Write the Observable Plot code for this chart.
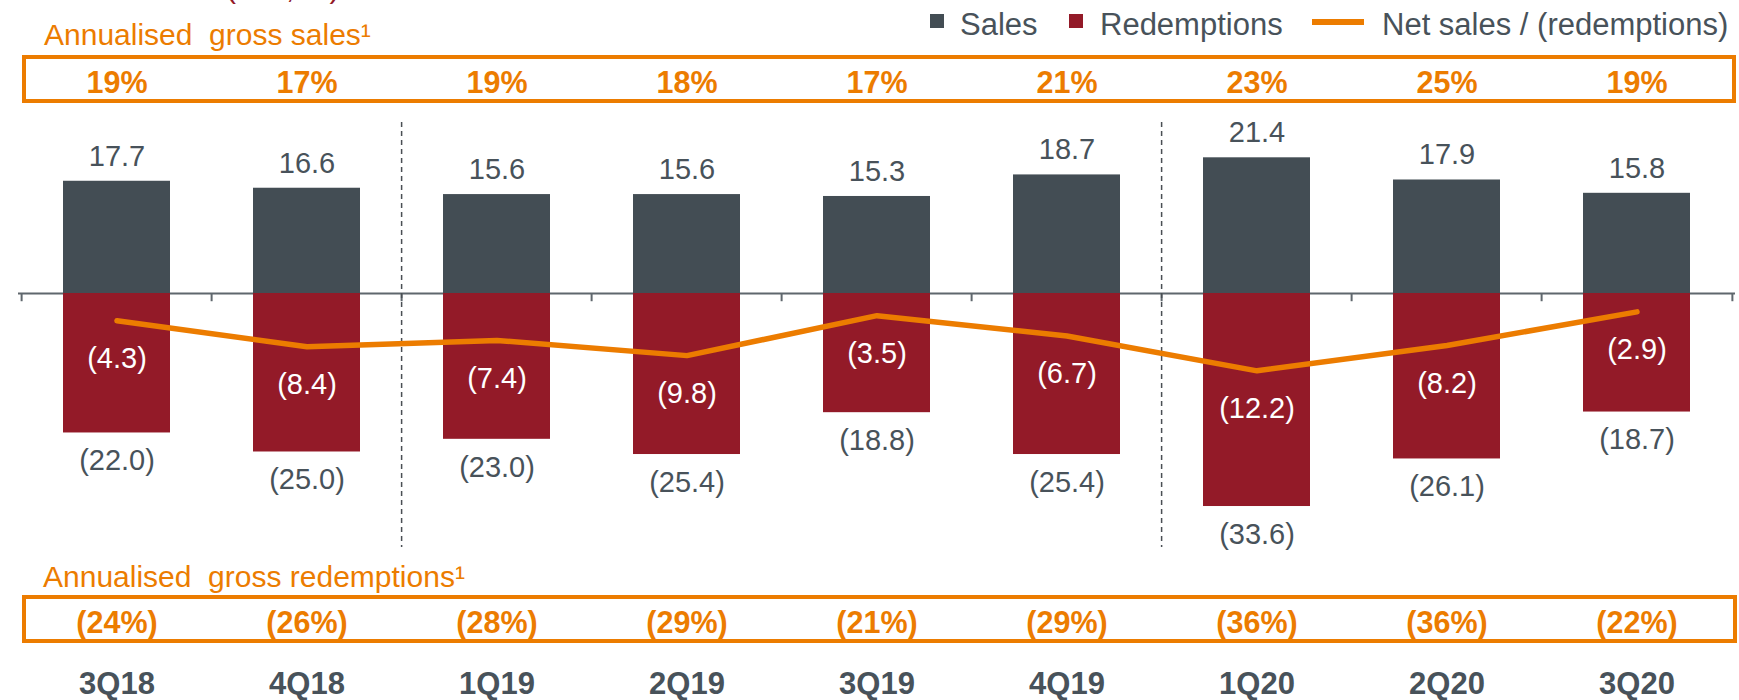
<!DOCTYPE html>
<html>
<head>
<meta charset="utf-8">
<script src="https://cdn.jsdelivr.net/npm/d3@7"></script>
<script src="https://cdn.jsdelivr.net/npm/@observablehq/plot@0.6"></script>
<style>
  html, body { margin: 0; padding: 0; background: #fff; }
  #wrap { position: relative; width: 1739px; height: 700px; overflow: hidden; font-family: "Liberation Sans", Arial, sans-serif; }
  #wrap svg { position: absolute; left: 0; top: 0; }
  .abs { position: absolute; white-space: pre; line-height: 1; }
  .box { position: absolute; box-sizing: border-box; border: 4px solid #ec7c00; }
</style>
</head>
<body>
<div id="wrap"></div>
<script>
// ---- data ----
const quarters = ["3Q18", "4Q18", "1Q19", "2Q19", "3Q19", "4Q19", "1Q20", "2Q20", "3Q20"];
const sales = [17.7, 16.6, 15.6, 15.6, 15.3, 18.7, 21.4, 17.9, 15.8];
const redemptions = [22.0, 25.0, 23.0, 25.4, 18.8, 25.4, 33.6, 26.1, 18.7];
const netSales = [-4.3, -8.4, -7.4, -9.8, -3.5, -6.7, -12.2, -8.2, -2.9];
const grossSalesPct = [19, 17, 19, 18, 17, 21, 23, 25, 19];
const grossRedemptionsPct = [24, 26, 28, 29, 21, 29, 36, 36, 22];
const dividerBefore = ["1Q19", "1Q20"];
const legendLabels = ["Sales", "Redemptions", "Net sales / (redemptions)"];
const titleSales = "Annualised\u00a0 gross sales\u00b9";
const titleRedemptions = "Annualised\u00a0 gross redemptions\u00b9";
const headingCropped = "(£bn, %)";

// ---- style / layout ----
const W = 1739, H = 700;
const C_SALES = "#434d54", C_RED = "#931a28", C_ORANGE = "#ec7c00", C_TEXT = "#48525a", C_AXIS = "#5f676d";
const ML = 18, MR = 4, MB = 30;
const step = (W - ML - MR) / quarters.length;
const FONT = "Liberation Sans, Arial, sans-serif";

const data = quarters.map((q, i) => ({
  q, sales: sales[i], red: -redemptions[i], net: netSales[i],
  gs: grossSalesPct[i], gr: grossRedemptionsPct[i]
}));
const paren = v => `(${Math.abs(v).toFixed(1)})`;

const plot = Plot.plot({
  width: W, height: H,
  marginLeft: ML, marginRight: MR, marginTop: 0, marginBottom: MB,
  style: { fontFamily: FONT, background: "transparent", overflow: "visible" },
  x: { type: "band", domain: quarters, paddingInner: 0.435, paddingOuter: 0.2175 },
  y: { domain: [-64.196, 46.21], range: [H, 0], axis: null },
  marks: [
    Plot.ruleY([0], { stroke: C_AXIS, strokeWidth: 2 }),
    Plot.ruleX(quarters, { x: d => d, y1: 0, y2: -1.3, dx: -step / 2, stroke: C_AXIS, strokeWidth: 2 }),
    Plot.ruleX(quarters.slice(-1), { x: d => d, y1: 0, y2: -1.3, dx: step / 2, stroke: C_AXIS, strokeWidth: 2 }),
    Plot.ruleX(dividerBefore, { x: d => d, dx: -step / 2, insetTop: 122, insetBottom: H - MB - 547,
      stroke: "#4a4f54", strokeWidth: 1.5, strokeDasharray: "5,4" }),
    Plot.barY(data, { x: "q", y: "sales", fill: C_SALES }),
    Plot.barY(data, { x: "q", y: "red", fill: C_RED }),
    Plot.line(data, { x: "q", y: "net", stroke: C_ORANGE, strokeWidth: 5.5, strokeLinecap: "round", strokeLinejoin: "round" }),
    Plot.text(data, { x: "q", y: "sales", text: d => d.sales.toFixed(1), dy: -25, fontSize: 29, fill: C_TEXT, lineAnchor: "middle" }),
    Plot.text(data, { x: "q", y: "red", text: d => paren(d.red), dy: 28, fontSize: 29, fill: C_TEXT, lineAnchor: "middle" }),
    Plot.text(data, { x: "q", y: "net", text: d => paren(d.net), dy: 38, fontSize: 29, fill: "#ffffff", lineAnchor: "middle" }),
    Plot.text(data, { x: "q", frameAnchor: "top", dy: 83.2, text: d => `${d.gs}%`, fontSize: 30.5, fontWeight: "bold", fill: C_ORANGE, lineAnchor: "middle" }),
    Plot.text(data, { x: "q", frameAnchor: "top", dy: 623.2, text: d => `(${d.gr}%)`, fontSize: 30.5, fontWeight: "bold", fill: C_ORANGE, lineAnchor: "middle" }),
    Plot.axisX({ anchor: "bottom", tickSize: 0, tickPadding: 1, fontSize: 31, fontWeight: "bold", color: C_TEXT, label: null })
  ]
});

const wrap = document.getElementById("wrap");
wrap.appendChild(plot);

// heading that is cropped by the top edge: exact baseline via an SVG text
const ns = "http://www.w3.org/2000/svg";
const topSvg = document.createElementNS(ns, "svg");
topSvg.setAttribute("width", 400);
topSvg.setAttribute("height", 12);
topSvg.style.overflow = "hidden";
const t = document.createElementNS(ns, "text");
t.setAttribute("x", 226);
t.setAttribute("y", -2.5);
t.setAttribute("fill", C_RED);
t.setAttribute("font-size", 30);
t.setAttribute("font-family", FONT);
t.textContent = headingCropped;
topSvg.appendChild(t);
wrap.appendChild(topSvg);

function addText(txt, left, baseline, size, color, extra = {}) {
  const el = document.createElement("div");
  el.className = "abs";
  el.textContent = txt;
  el.style.left = left + "px";
  el.style.top = (baseline - 0.8465 * size) + "px";
  el.style.fontSize = size + "px";
  el.style.color = color;
  Object.assign(el.style, extra);
  wrap.appendChild(el);
  return el;
}
function addBox(left, top, width, height) {
  const el = document.createElement("div");
  el.className = "box";
  Object.assign(el.style, { left: left + "px", top: top + "px", width: width + "px", height: height + "px" });
  wrap.appendChild(el);
}
function addSwatch(left, top, w, h, color) {
  const el = document.createElement("div");
  Object.assign(el.style, { position: "absolute", left: left + "px", top: top + "px", width: w + "px", height: h + "px", background: color });
  wrap.appendChild(el);
}

addText(titleSales, 44, 45, 30, C_ORANGE);
addBox(22, 55, 1714, 48);
addText(titleRedemptions, 43, 587, 30, C_ORANGE);
addBox(22, 595, 1715, 48);

addSwatch(930, 14, 14, 14, C_SALES);
addText(legendLabels[0], 960, 35, 31, C_TEXT);
addSwatch(1069, 14, 14, 14, C_RED);
addText(legendLabels[1], 1100, 35, 31, C_TEXT);
addSwatch(1312, 18.5, 52, 6, C_ORANGE);
addText(legendLabels[2], 1382, 35, 31, C_TEXT);
</script>
</body>
</html>
